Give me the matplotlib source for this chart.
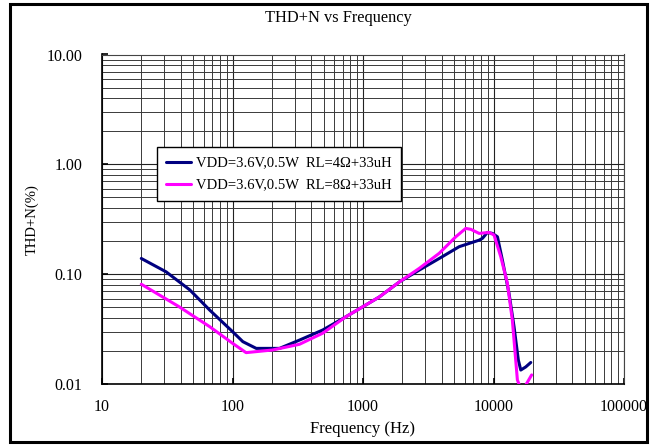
import matplotlib
matplotlib.use("Agg")
import matplotlib.pyplot as plt
from matplotlib.patches import Rectangle
from matplotlib.ticker import FixedLocator, LogLocator, NullFormatter

plt.rcParams['font.family'] = ['Liberation Serif', 'DejaVu Serif']

# ---- data ----
freq_blue = [20, 31, 47, 67, 100, 120, 152, 229, 326, 491, 741, 1333, 1900, 2700,
             3840, 5460, 7760, 8230, 8980, 9810, 10720, 11700, 13150, 14370, 15500,
             16180, 17660, 19300]
thd_blue = [0.139, 0.105, 0.072, 0.047, 0.030, 0.0243, 0.0211, 0.0211, 0.0251, 0.031,
            0.041, 0.062, 0.085, 0.109, 0.139, 0.178, 0.204, 0.212, 0.240, 0.235,
            0.219, 0.134, 0.0669, 0.0332, 0.0165, 0.0134, 0.0143, 0.0157]

freq_pink = [20, 39, 67, 100, 127, 203, 326, 491, 741, 1333, 1900, 2700, 3840, 5140,
             6130, 6700, 7760, 9250, 10100, 11370, 12780, 13950, 15240, 16500, 19600]
thd_pink = [0.081, 0.0505, 0.0332, 0.0235, 0.0193, 0.0204, 0.0230, 0.029, 0.041, 0.062,
            0.085, 0.113, 0.155, 0.219, 0.261, 0.256, 0.235, 0.240, 0.227, 0.144,
            0.0825, 0.038, 0.0109, 0.0085, 0.0121]

label_blue = "VDD=3.6V,0.5W  RL=4Ω+33uH"
label_pink = "VDD=3.6V,0.5W  RL=8Ω+33uH"

x_ticks = [10, 100, 1000, 10000, 100000]
x_ticklabels = ["10", "100", "1000", "10000", "100000"]
y_ticks = [0.01, 0.1, 1, 10]
y_ticklabels = ["0.01", "0.10", "1.00", "10.00"]

title = "THD+N vs Frequency"
xlabel = "Frequency (Hz)"
ylabel = "THD+N(%)"

# ---- figure ----
W, H = 653, 448
fig = plt.figure(figsize=(W / 100, H / 100), dpi=100)
fig.patch.set_facecolor("white")

left, right, top, bottom = 102, 624, 54.5, 384
ax = fig.add_axes([left / W, 1 - bottom / H, (right - left) / W, (bottom - top) / H])

ax.set_xscale("log")
ax.set_yscale("log")
ax.set_xlim(10, 100000)
ax.set_ylim(0.01, 10)

ax.plot(freq_blue, thd_blue, color="#000080", lw=2.2, solid_joinstyle="round",
        solid_capstyle="round", label=label_blue, zorder=3)
ax.plot(freq_pink, thd_pink, color="#FF00FF", lw=2.2, solid_joinstyle="round",
        solid_capstyle="round", label=label_pink, zorder=3)

ax.xaxis.set_major_locator(FixedLocator(x_ticks))
ax.set_xticklabels(x_ticklabels)
ax.yaxis.set_major_locator(FixedLocator(y_ticks))
ax.set_yticklabels(y_ticklabels)
ax.xaxis.set_minor_locator(LogLocator(base=10, subs=range(2, 10)))
ax.yaxis.set_minor_locator(LogLocator(base=10, subs=range(2, 10)))
ax.xaxis.set_minor_formatter(NullFormatter())
ax.yaxis.set_minor_formatter(NullFormatter())

ax.grid(True, which="major", color="#222222", lw=0.8)
ax.grid(True, which="minor", color="#3a3a3a", lw=0.7)
ax.tick_params(which="major", direction="in", length=4, width=1.2, labelsize=11.5)
ax.tick_params(axis="y", which="major", pad=14)
ax.tick_params(axis="x", which="major", pad=11)
ax.tick_params(which="minor", length=0)

for s in ["left", "bottom"]:
    ax.spines[s].set_color("black")
    ax.spines[s].set_linewidth(1.2)
for s in ["top", "right"]:
    ax.spines[s].set_color("#444444")
    ax.spines[s].set_linewidth(0.8)

ax.set_xlabel(xlabel, fontsize=12, labelpad=4)
ax.set_ylabel(ylabel, fontsize=10.5, labelpad=5.5)
fig.text(338 / W, 1 - 18 / H, title, ha="center", va="center", fontsize=11.8)

leg = ax.legend(loc="upper left",
                bbox_to_anchor=(157 / W, 1 - 147 / H), bbox_transform=fig.transFigure,
                fontsize=10.5, frameon=True, fancybox=False, edgecolor="black",
                framealpha=1, borderaxespad=0, borderpad=0.65, handlelength=1.65,
                handletextpad=0.4, labelspacing=0.6)
leg.get_frame().set_linewidth(1.0)

# outer chart frame
fig.patches.append(Rectangle((9.5 / W, 1 - 442 / H), (647 - 9.5) / W, (442 - 4.5) / H,
                             transform=fig.transFigure, fill=False,
                             edgecolor="black", lw=2.2))

fig.savefig("out.png", dpi=100)
